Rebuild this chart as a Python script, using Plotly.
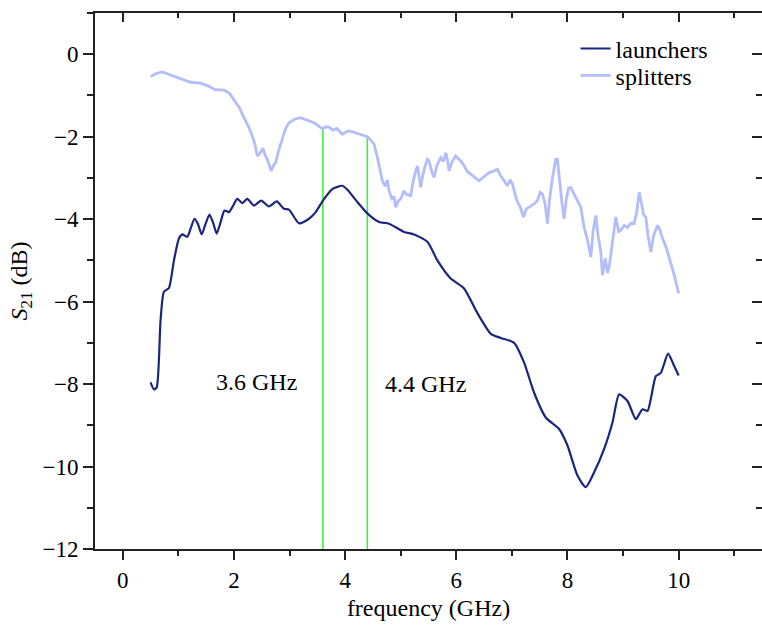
import plotly.graph_objects as go

# ---------------- data ----------------
launch_f = [0.50, 0.56, 0.61, 0.68, 0.74, 0.83, 0.92, 1.01, 1.07, 1.16, 1.22, 1.29, 1.35, 1.42,
            1.49, 1.56, 1.63, 1.69, 1.76, 1.83, 1.91, 1.97, 2.06, 2.15, 2.24, 2.36, 2.49, 2.63,
            2.77, 2.90, 2.99, 3.17, 3.35, 3.47, 3.61, 3.77, 3.95, 4.05, 4.20, 4.40, 4.61, 4.79,
            5.06, 5.24, 5.48, 5.66, 5.90, 6.14, 6.38, 6.62, 6.80, 7.04, 7.22, 7.40, 7.61, 7.85,
            8.00, 8.18, 8.33, 8.48, 8.66, 8.81, 8.93, 9.08, 9.23, 9.35, 9.44, 9.59, 9.68, 9.81,
            9.91, 10.0]
launch_db = [-7.96, -8.13, -8.08, -6.44, -5.76, -5.67, -5.00, -4.47, -4.37, -4.43, -4.23, -3.99,
             -4.11, -4.37, -4.11, -3.89, -4.11, -4.35, -4.07, -3.79, -3.83, -3.71, -3.51, -3.61,
             -3.51, -3.67, -3.55, -3.69, -3.57, -3.75, -3.77, -4.10, -3.99, -3.83, -3.53, -3.27,
             -3.19, -3.30, -3.55, -3.86, -4.07, -4.11, -4.31, -4.37, -4.55, -5.00, -5.44, -5.68,
             -6.28, -6.78, -6.88, -7.00, -7.48, -8.21, -8.81, -9.09, -9.49, -10.22, -10.50,
             -10.14, -9.57, -8.93, -8.25, -8.41, -8.85, -8.61, -8.65, -7.81, -7.73, -7.26,
             -7.53, -7.79]

split_f = [0.50, 0.60, 0.71, 0.82, 0.92, 1.05, 1.22, 1.40, 1.55, 1.66, 1.82, 1.92, 2.00, 2.10,
           2.18, 2.26, 2.33, 2.38, 2.42, 2.47, 2.52, 2.56, 2.60, 2.64, 2.67, 2.71, 2.75, 2.80,
           2.87, 2.93, 2.99, 3.10, 3.20, 3.32, 3.44, 3.52, 3.59, 3.65, 3.71, 3.78, 3.85, 3.95,
           4.05, 4.13, 4.22, 4.32, 4.40, 4.46, 4.52, 4.58, 4.63, 4.67, 4.72, 4.76, 4.79, 4.84,
           4.88, 4.91, 4.96, 5.00, 5.06, 5.10, 5.18, 5.22, 5.27, 5.30, 5.33, 5.36, 5.39, 5.44,
           5.48, 5.51, 5.56, 5.60, 5.65, 5.72, 5.77, 5.81, 5.84, 5.87, 5.92, 5.99, 6.02, 6.08,
           6.14, 6.20, 6.30, 6.41, 6.50, 6.59, 6.66, 6.74, 6.80, 6.86, 6.92, 6.97, 7.01, 7.05,
           7.09, 7.15, 7.21, 7.26, 7.33, 7.40, 7.46, 7.51, 7.55, 7.60, 7.64, 7.68, 7.73, 7.79,
           7.82, 7.86, 7.90, 7.94, 7.98, 8.02, 8.06, 8.12, 8.18, 8.24, 8.30, 8.36, 8.42, 8.46,
           8.51, 8.55, 8.60, 8.63, 8.68, 8.72, 8.75, 8.80, 8.84, 8.87, 8.92, 8.96, 9.02, 9.08,
           9.14, 9.20, 9.25, 9.29, 9.33, 9.37, 9.41, 9.45, 9.50, 9.55, 9.62, 9.66, 9.70, 9.78,
           9.86, 9.93, 10.0]
split_db = [-0.54, -0.47, -0.43, -0.48, -0.54, -0.60, -0.68, -0.70, -0.78, -0.86, -0.87, -0.95,
            -1.10, -1.30, -1.54, -1.75, -1.98, -2.20, -2.47, -2.40, -2.28, -2.45, -2.54, -2.70,
            -2.83, -2.70, -2.63, -2.35, -2.02, -1.80, -1.66, -1.57, -1.54, -1.60, -1.66, -1.74,
            -1.81, -1.76, -1.77, -1.84, -1.80, -1.94, -1.86, -1.88, -1.92, -1.95, -2.00, -2.08,
            -2.18, -2.50, -2.85, -3.07, -3.20, -3.05, -3.31, -3.50, -3.45, -3.71, -3.55, -3.51,
            -3.31, -3.40, -3.43, -3.10, -2.83, -2.71, -2.95, -3.23, -2.99, -2.70, -2.55, -2.59,
            -2.85, -2.99, -2.70, -2.51, -2.60, -2.39, -2.55, -2.83, -2.62, -2.47, -2.51, -2.59,
            -2.70, -2.85, -2.95, -3.07, -2.97, -2.87, -2.84, -2.79, -2.95, -3.07, -3.19, -3.05,
            -3.15, -3.35, -3.55, -3.70, -3.95, -3.75, -3.70, -3.63, -3.55, -3.35, -3.39, -3.65,
            -4.11, -3.50, -3.00, -2.55, -2.55, -3.10, -3.60, -3.99, -3.50, -3.25, -3.23, -3.40,
            -3.55, -3.71, -4.20, -4.50, -4.92, -4.30, -3.91, -4.40, -4.80, -5.36, -4.95, -5.30,
            -5.16, -4.60, -4.20, -3.95, -4.30, -4.27, -4.15, -4.20, -4.10, -4.11, -3.80, -3.35,
            -3.60, -3.90, -3.95, -4.40, -4.80, -4.40, -4.15, -4.25, -4.43, -4.70, -5.07, -5.40,
            -5.80]

marker_f = [3.6, 4.4]
marker_top = [-1.80, -2.02]
marker_text = ["3.6 GHz", "4.4 GHz"]
marker_text_pos = [2.4, 5.45]
marker_text_y = [-7.95, -8.0]

x_range = [-0.5, 11.5]
y_range = [-12, 1]

FONT = "Liberation Serif, Times New Roman, serif"
NAVY = "#1b2580"
LIGHT = "#b4bdfb"
GREEN = "#3cf03c"
AX = "#222"

fig = go.Figure()

for f, top in zip(marker_f, marker_top):
    fig.add_trace(go.Scatter(x=[f, f], y=[y_range[0], top], mode="lines",
                             line=dict(color=GREEN, width=1.6),
                             showlegend=False, hoverinfo="skip"))

fig.add_trace(go.Scatter(x=split_f, y=split_db, mode="lines", name="splitters",
                         legend="legend2",
                         line=dict(color=LIGHT, width=2.8)))
fig.add_trace(go.Scatter(x=launch_f, y=launch_db, mode="lines", name="launchers",
                         legend="legend",
                         line=dict(color=NAVY, width=2.2, shape="spline", smoothing=0.6)))

# dummy trace for the mirrored (top/right) axes
fig.add_trace(go.Scatter(x=[None], y=[None], xaxis="x2", yaxis="y2",
                         showlegend=False, hoverinfo="skip"))

for t, xp, yp in zip(marker_text, marker_text_pos, marker_text_y):
    fig.add_annotation(x=xp, y=yp, text=t, showarrow=False,
                       font=dict(family=FONT, size=24, color="black"))

axis_common = dict(showgrid=False, zeroline=False, showline=True,
                   linecolor=AX, linewidth=2, tickcolor=AX, tickwidth=2)

legend_common = dict(xanchor="left", yanchor="top", bgcolor="rgba(0,0,0,0)",
                     borderwidth=0, font=dict(family=FONT, size=24, color="black"),
                     itemwidth=30)

fig.update_layout(
    width=762, height=630,
    margin=dict(l=95, r=0, t=13, b=81),
    paper_bgcolor="white", plot_bgcolor="white",
    font=dict(family=FONT, size=24, color="black"),
    xaxis=dict(range=x_range, tickmode="linear", tick0=0, dtick=2,
               ticks="outside", ticklen=9,
               minor=dict(ticks="outside", ticklen=5, dtick=1, tick0=0,
                          tickcolor=AX, tickwidth=2),
               title=dict(text="frequency (GHz)", standoff=8,
                          font=dict(family=FONT, size=24)),
               tickfont=dict(family=FONT, size=23), **axis_common),
    yaxis=dict(range=y_range, tickmode="linear", tick0=0, dtick=2,
               ticks="outside", ticklen=10,
               minor=dict(ticks="outside", ticklen=6, dtick=1, tick0=0,
                          tickcolor=AX, tickwidth=2),
               tickformat="d",
               title=dict(text="<i>S</i><sub>21</sub> (dB)", standoff=8,
                          font=dict(family=FONT, size=24)),
               tickfont=dict(family=FONT, size=23), **axis_common),
    xaxis2=dict(range=x_range, overlaying="x", side="top", anchor="y2",
                tickmode="linear", tick0=0, dtick=2, ticks="inside", ticklen=9,
                minor=dict(ticks="inside", ticklen=5, dtick=1, tick0=0,
                           tickcolor=AX, tickwidth=2),
                showticklabels=False, **axis_common),
    yaxis2=dict(range=y_range, overlaying="y", side="right", anchor="x2",
                tickmode="linear", tick0=0, dtick=2, ticks="inside", ticklen=10,
                minor=dict(ticks="inside", ticklen=6, dtick=1, tick0=0,
                           tickcolor=AX, tickwidth=2),
                showticklabels=False, showgrid=False, zeroline=False,
                showline=False, tickcolor=AX, tickwidth=2),
    legend=dict(x=0.7205, y=0.975, **legend_common),
    legend2=dict(x=0.7205, y=0.925, **legend_common),
    showlegend=True,
)

fig.write_html("out.html", config={"displayModeBar": False},
               post_script="document.body.style.margin='0';document.body.style.overflow='hidden';")
